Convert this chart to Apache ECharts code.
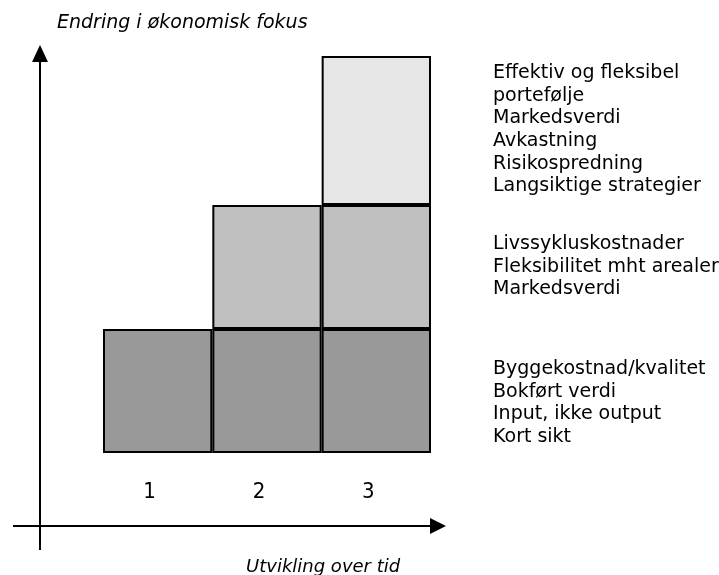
<!DOCTYPE html>
<html>
<head>
<meta charset="utf-8">
<script src="https://cdn.jsdelivr.net/npm/echarts@6/dist/echarts.min.js"></script>
<style>html,body{margin:0;padding:0;background:#fff}#c{width:719px;height:575px}</style>
</head>
<body>
<div id="c"></div>
<script>
var categories = ['1', '2', '3'];
var baseValues = [1, 1, 1];
var middleValues = ['-', 1, 1];
var topValues = ['-', '-', 1.2];
var topLines = ['Effektiv og fleksibel', 'portefølje', 'Markedsverdi', 'Avkastning', 'Risikospredning', 'Langsiktige strategier'];
var middleLines = ['Livssykluskostnader', 'Fleksibilitet mht arealer', 'Markedsverdi'];
var baseLines = ['Byggekostnad/kvalitet', 'Bokført verdi', 'Input, ikke output', 'Kort sikt'];
var yTitle = 'Endring i økonomisk fokus';
var xTitle = 'Utvikling over tid';

var chart = echarts.init(document.getElementById('c'), null, {renderer: 'canvas'});
var font = "'DejaVu Sans', sans-serif";
function barSeries(data, color) {
  return {
    type: 'bar', stack: 'total', data: data, barCategoryGap: '0%',
    itemStyle: {color: color, borderColor: '#000', borderWidth: 2},
    silent: true, animation: false
  };
}
function textBlock(lines, y) {
  return {
    type: 'text', left: 493, top: y,
    style: {text: lines.join('\n'), font: '19px ' + font, fill: '#000', lineHeight: 22.6}
  };
}
chart.setOption({
  animation: false,
  grid: {left: 103, right: 288, top: 56, bottom: 122},
  xAxis: {
    type: 'category', data: categories,
    axisLine: {show: false}, axisTick: {show: false},
    axisLabel: {margin: 28, fontSize: 22, color: '#000', padding: [0, 16, 0, 0],
      fontFamily: "'DejaVu Sans Condensed', 'DejaVu Sans', sans-serif"}
  },
  yAxis: {type: 'value', min: 0, max: 3.2, show: false, splitLine: {show: false}},
  series: [
    barSeries(baseValues, '#999999'),
    barSeries(middleValues, '#c0c0c0'),
    barSeries(topValues, '#e6e6e6')
  ],
  graphic: [
    {type: 'line', shape: {x1: 40, y1: 550, x2: 40, y2: 58}, style: {stroke: '#000', lineWidth: 2}},
    {type: 'polygon', shape: {points: [[40, 45], [32, 62], [48, 62]]}, style: {fill: '#000'}},
    {type: 'line', shape: {x1: 13, y1: 526, x2: 432, y2: 526}, style: {stroke: '#000', lineWidth: 2}},
    {type: 'polygon', shape: {points: [[446, 526], [430, 518], [430, 534]]}, style: {fill: '#000'}},
    {type: 'text', left: 57, top: 14, style: {text: yTitle, font: 'italic 19px ' + font, fill: '#000'}},
    {type: 'text', left: 246, top: 558, style: {text: xTitle, font: 'italic 18px ' + font, fill: '#000'}},
    textBlock(topLines, 62),
    textBlock(middleLines, 233),
    textBlock(baseLines, 358)
  ]
});
</script>
</body>
</html>
